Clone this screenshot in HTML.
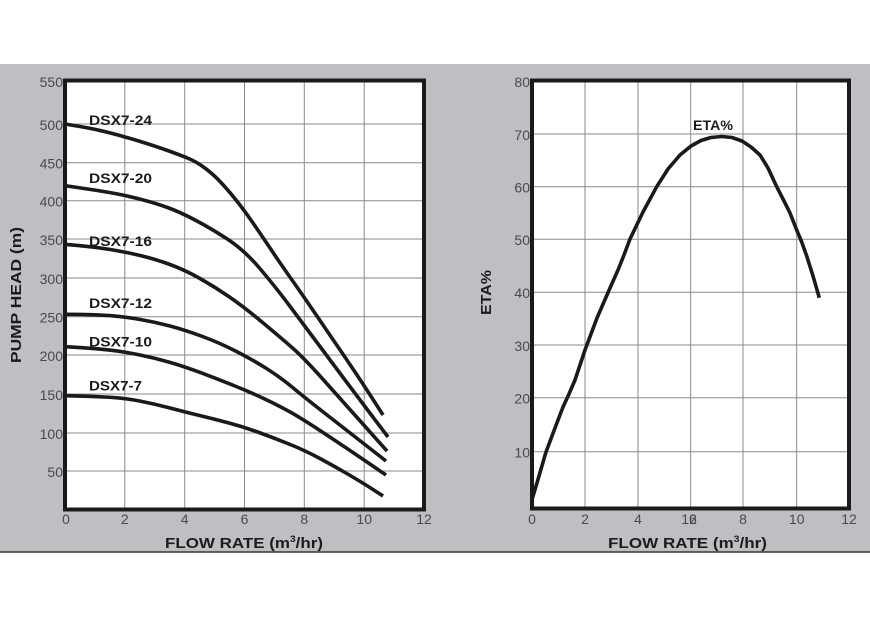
<!DOCTYPE html>
<html><head><meta charset="utf-8"><style>
html,body{margin:0;padding:0;background:#fff;}
svg{display:block;}
.t{font-family:"Liberation Sans",sans-serif;font-size:14px;fill:#4a4a4a;}
.b{font-family:"Liberation Sans",sans-serif;font-weight:bold;fill:#1c1c1c;}
</style></head><body>
<svg width="870" height="619" viewBox="0 0 870 619" xmlns="http://www.w3.org/2000/svg">
<rect x="0" y="0" width="870" height="619" fill="#ffffff"/>
<rect x="0" y="64" width="870" height="488" fill="#bfbfc3"/>
<line x1="0" y1="552" x2="870" y2="552" stroke="#3a3a3a" stroke-width="1.6"/>

<!-- LEFT PLOT -->
<rect x="65" y="80.5" width="359" height="429" fill="#ffffff"/>
<g stroke="#8a8a8a" stroke-width="1">
<line x1="124.8" y1="80" x2="124.8" y2="510"/>
<line x1="184.7" y1="80" x2="184.7" y2="510"/>
<line x1="244.5" y1="80" x2="244.5" y2="510"/>
<line x1="304.3" y1="80" x2="304.3" y2="510"/>
<line x1="364.2" y1="80" x2="364.2" y2="510"/>
<line x1="65" y1="124" x2="424" y2="124"/>
<line x1="65" y1="162.7" x2="424" y2="162.7"/>
<line x1="65" y1="200.7" x2="424" y2="200.7"/>
<line x1="65" y1="239" x2="424" y2="239"/>
<line x1="65" y1="278" x2="424" y2="278"/>
<line x1="65" y1="316.7" x2="424" y2="316.7"/>
<line x1="65" y1="355" x2="424" y2="355"/>
<line x1="65" y1="394" x2="424" y2="394"/>
<line x1="65" y1="433" x2="424" y2="433"/>
<line x1="65" y1="471" x2="424" y2="471"/>
</g>
<g fill="none" stroke="#1a1a1a" stroke-width="3.6" stroke-linejoin="round" stroke-linecap="butt">
<path d="M65,124 L80,126.5 Q95,129 109.5,132.75 Q124,136.5 139.5,141.25 Q155,146 167.5,150.5 Q180,155 188,158.25 Q196,161.5 204.5,167.75 Q213,174 220.5,182 Q228,190 236,200 Q244,210 253,223 Q262,236 271,249.5 Q280,263 292,280 Q304,297 314.5,312.5 Q325,328 336,344 Q347,360 356,373.5 Q365,387 374,401 L383,415"/>
<path d="M65,185.7 L80,187.85 Q95,190 109.5,192.5 Q124,195 139.5,199 Q155,203 167.5,207.5 Q180,212 196,220.5 Q212,229 228,239.5 Q244,250 259,267.5 Q274,285 289,305 Q304,325 317,342.5 Q330,360 345,380 Q360,400 374,418.5 L388,437"/>
<path d="M65,244.3 L80,245.65 Q95,247 109.5,249.35 Q124,251.7 139.5,255.35 Q155,259 170,264.5 Q185,270 200,278.5 Q215,287 229.5,297 Q244,307 262,322 Q280,337 292,347.5 Q304,358 324.5,381 Q345,404 366,427.5 L387,451"/>
<path d="M65,314.3 L80,314.4 Q95,314.5 109.5,315.6 Q124,316.7 139.5,319.35 Q155,322 170,326 Q185,330 202.5,336.5 Q220,343 236.5,351.5 Q253,360 266.5,368.5 Q280,377 292,387 Q304,397 324.5,413 Q345,429 365.5,445 L386,461"/>
<path d="M65,346.7 L80,347.6 Q95,348.5 109.5,350.1 Q124,351.7 139.5,354.85 Q155,358 170,362.35 Q185,366.7 202.5,373.35 Q220,380 235,386 Q250,392 265.5,399.35 Q281,406.7 292.5,413.35 Q304,420 324.5,433.5 Q345,447 365.5,461 L386,475"/>
<path d="M65,395.7 L80,396.1 Q95,396.5 109.5,397.25 Q124,398 139.5,401 Q155,404 170,408 Q185,412 199.5,415.5 Q214,419 229,423 Q244,427 259,432.5 Q274,438 289,444 Q304,450 319,458 Q334,466 348.5,474.5 Q363,483 373,489.5 L383,496"/>
</g>
<rect x="65" y="80.5" width="359" height="429" fill="none" stroke="#1a1a1a" stroke-width="4"/>

<g class="b" font-size="14">
<text x="89" y="125" textLength="63" lengthAdjust="spacingAndGlyphs">DSX7-24</text>
<text x="89" y="183" textLength="63" lengthAdjust="spacingAndGlyphs">DSX7-20</text>
<text x="89" y="246" textLength="63" lengthAdjust="spacingAndGlyphs">DSX7-16</text>
<text x="89" y="308" textLength="63" lengthAdjust="spacingAndGlyphs">DSX7-12</text>
<text x="89" y="346.5" textLength="63" lengthAdjust="spacingAndGlyphs">DSX7-10</text>
<text x="89" y="390.5" textLength="53" lengthAdjust="spacingAndGlyphs">DSX7-7</text>
</g>

<g class="t" text-anchor="end">
<text x="63" y="87">550</text>
<text x="63" y="130">500</text>
<text x="63" y="168.5">450</text>
<text x="63" y="206.5">400</text>
<text x="63" y="245">350</text>
<text x="63" y="284">300</text>
<text x="63" y="322.5">250</text>
<text x="63" y="361">200</text>
<text x="63" y="400">150</text>
<text x="63" y="439">100</text>
<text x="63" y="477">50</text>
</g>
<g class="t" text-anchor="middle">
<text x="66" y="524">0</text>
<text x="124.8" y="524">2</text>
<text x="184.7" y="524">4</text>
<text x="244.5" y="524">6</text>
<text x="304.3" y="524">8</text>
<text x="364.2" y="524">10</text>
<text x="424" y="524">12</text>
</g>
<text class="b" x="165" y="548" font-size="15" textLength="158" lengthAdjust="spacingAndGlyphs">FLOW RATE (m<tspan font-size="9" dy="-6">3</tspan><tspan dy="6">/hr)</tspan></text>
<text class="b" font-size="15" transform="translate(21,363) rotate(-90)" textLength="136" lengthAdjust="spacingAndGlyphs">PUMP HEAD (m)</text>

<!-- RIGHT PLOT -->
<rect x="532" y="80.5" width="317" height="428" fill="#ffffff"/>
<g stroke="#8a8a8a" stroke-width="1">
<line x1="585" y1="80" x2="585" y2="509"/>
<line x1="638" y1="80" x2="638" y2="509"/>
<line x1="690.7" y1="80" x2="690.7" y2="509"/>
<line x1="743" y1="80" x2="743" y2="509"/>
<line x1="796.7" y1="80" x2="796.7" y2="509"/>
<line x1="532" y1="134" x2="849" y2="134"/>
<line x1="532" y1="186.7" x2="849" y2="186.7"/>
<line x1="532" y1="239.3" x2="849" y2="239.3"/>
<line x1="532" y1="292.3" x2="849" y2="292.3"/>
<line x1="532" y1="345" x2="849" y2="345"/>
<line x1="532" y1="397.7" x2="849" y2="397.7"/>
<line x1="532" y1="451.7" x2="849" y2="451.7"/>
</g>
<polyline fill="none" stroke="#1a1a1a" stroke-width="3.6" stroke-linejoin="round" points="532.5,498 539,476 546,452 555,428 563,407 569,394 575,380 585,350 597,318 610,288 618,270 624,255 630,239 643,212 656.7,186.7 668,169 680,155 691,146 701,140.5 711,137.5 721.7,136.5 732,137.5 742,141 751,147 760,155 768,168 776.7,186.7 784,201 790,213 796.7,230 801.7,242 806.7,256 813,276 819.3,297.7"/>
<rect x="532" y="80.5" width="317" height="428" fill="none" stroke="#1a1a1a" stroke-width="4"/>

<text class="b" x="693" y="130" font-size="14" textLength="40" lengthAdjust="spacingAndGlyphs">ETA%</text>

<g class="t" text-anchor="end">
<text x="530" y="87">80</text>
<text x="530" y="140">70</text>
<text x="530" y="192.5">60</text>
<text x="530" y="245">50</text>
<text x="530" y="298">40</text>
<text x="530" y="351">30</text>
<text x="530" y="403.5">20</text>
<text x="530" y="457.5">10</text>
</g>
<g class="t" text-anchor="middle">
<text x="532" y="524">0</text>
<text x="585" y="524">2</text>
<text x="638" y="524">4</text>
<text x="689" y="524">16</text>
<text x="693" y="524">2</text>
<text x="743" y="524">8</text>
<text x="796.7" y="524">10</text>
<text x="849" y="524">12</text>
</g>
<text class="b" x="608" y="548" font-size="15" textLength="159" lengthAdjust="spacingAndGlyphs">FLOW RATE (m<tspan font-size="9" dy="-6">3</tspan><tspan dy="6">/hr)</tspan></text>
<text class="b" font-size="15" transform="translate(491,315) rotate(-90)" textLength="45" lengthAdjust="spacingAndGlyphs">ETA%</text>
</svg>
</body></html>
